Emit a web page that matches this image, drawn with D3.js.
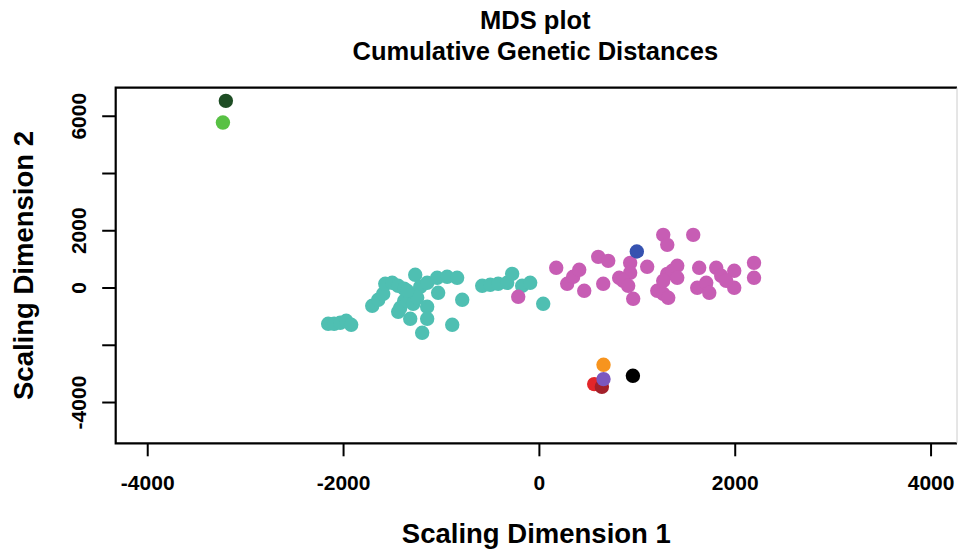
<!DOCTYPE html>
<html lang="en">
  <head>
    <meta charset="UTF-8" />
    <title>MDS plot</title>
    <script src="https://cdn.jsdelivr.net/npm/d3@7"></script>
    <style>
      body { margin: 0; background: #fff; }
      svg { display: block; font-family: "Liberation Sans", Arial, Helvetica, sans-serif; font-weight: bold; }
    </style>
  </head>
  <body>
    <svg width="959" height="553"></svg>

    <script>
      // groups, colours and MDS coordinates
      var groups = ["teal", "magenta", "blue", "red", "darkred", "orange", "purple", "black", "darkgreen", "lightgreen"];
      var groupColors = ["#4fbfb2", "#c75db4", "#3652b0", "#e3262a", "#a3202a", "#f7941e", "#7b57bf", "#000000", "#1e4d24", "#58c144"];

      var tealX = [-2152, -2091, -2029, -1968, -1917, -1702, -1641, -1590, -1569, -1498, -1437, -1375, -1263, -1314, -1375, -1416, -1437, -1212, -1141, -1039, -937, -835, -1029, -1141, -1141, -1314, -1192, -885, -783, -579, -497, -416, -324, -273, -171, -89, 44, -1284, -1243, -1345];
      var tealY = [-1268, -1268, -1233, -1163, -1303, -639, -430, -220, 129, 164, 59, -45, 444, -220, -464, -709, -849, 24, 164, 339, 374, 339, -185, -674, -1093, -1093, -1582, -1303, -430, 59, 94, 129, 164, 478, 59, 164, -569, -569, -360, -115];

      var magentaX = [-211, 177, 289, 350, 412, 463, 606, 708, 657, 820, 932, 932, 861, 912, 963, 1106, 1270, 1311, 1576, 1209, 1270, 1321, 1311, 1362, 1413, 1413, 1270, 1637, 1617, 1709, 1740, 1811, 1862, 1995, 1995, 1913, 2197, 2197];
      var magentaY = [-325, 688, 129, 374, 618, -115, 1072, 932, 129, 339, 862, 513, 234, 59, -395, 723, 1840, 1491, 1840, -115, -220, -360, 478, 583, 758, 339, 234, 688, -10, 164, -185, 688, 409, 583, -10, 234, 862, 339];

      var blueX = [1000], blueY = [1257];
      var redX = [565], redY = [-3374];
      var darkredX = [643], darkredY = [-3468];
      var orangeX = [660], orangeY = [-2700];
      var purpleX = [660], purpleY = [-3199];
      var blackX = [960], blackY = [-3084];
      var darkgreenX = [-3197], darkgreenY = [6520];
      var lightgreenX = [-3227], lightgreenY = [5763];

      var xTicks = [-4000, -2000, 0, 2000, 4000];
      var xTickLabels = ["-4000", "-2000", "0", "2000", "4000"];
      var yTicks = [-4000, -2000, 0, 2000, 4000, 6000];
      var yTickLabels = ["-4000", "", "0", "2000", "", "6000"]; // R drops the crowded ones

      var seriesX = [tealX, magentaX, blueX, redX, darkredX, orangeX, purpleX, blackX, darkgreenX, lightgreenX];
      var seriesY = [tealY, magentaY, blueY, redY, darkredY, orangeY, purpleY, blackY, darkgreenY, lightgreenY];

      var points = [];
      groups.forEach(function (g, i) {
        seriesX[i].forEach(function (v, j) {
          points.push({ group: g, color: groupColors[i], x: v, y: seriesY[i][j] });
        });
      });

      var svg = d3.select("svg"),
        plot = { left: 115.7, right: 957, top: 87.7, bottom: 443.3 };

      // plot limits (par("usr")) so the ticks fall where they do in the picture
      var x = d3.scaleLinear().domain([-4322, 4270]).range([plot.left, plot.right]),
        y = d3.scaleLinear().domain([-5442, 6980]).range([plot.bottom, plot.top]);

      // title
      svg.append("text")
        .attr("x", (plot.left + plot.right) / 2 - 1)
        .attr("y", 29)
        .attr("text-anchor", "middle")
        .style("font-size", "25.5px")
        .text("MDS plot");
      svg.append("text")
        .attr("x", (plot.left + plot.right) / 2 - 1)
        .attr("y", 60)
        .attr("text-anchor", "middle")
        .style("font-size", "25.5px")
        .text("Cumulative Genetic Distances");

      // points
      svg.append("g")
        .selectAll("circle")
        .data(points)
        .enter()
        .append("circle")
        .attr("cx", function (d) { return x(d.x); })
        .attr("cy", function (d) { return y(d.y); })
        .attr("r", 7.2)
        .attr("fill", function (d) { return d.color; });

      // axes
      var xAxis = svg.append("g")
        .attr("transform", "translate(0," + plot.bottom + ")")
        .call(d3.axisBottom(x).tickValues(xTicks).tickSize(13).tickFormat(function (d, i) { return xTickLabels[i]; }));
      xAxis.select(".domain").remove();
      xAxis.selectAll("line").attr("stroke", "#000").attr("stroke-width", 2);
      xAxis.selectAll("text")
        .attr("y", 47)
        .attr("dy", 0)
        .attr("fill", "#000")
        .style("font-size", "21px")
        .style("font-family", "'Liberation Sans', Arial, sans-serif")
        .style("font-weight", "bold");

      var yAxis = svg.append("g")
        .attr("transform", "translate(" + plot.left + ",0)")
        .call(d3.axisLeft(y).tickValues(yTicks).tickSize(13.5).tickFormat(function (d, i) { return yTickLabels[i]; }));
      yAxis.select(".domain").remove();
      yAxis.selectAll("line").attr("stroke", "#000").attr("stroke-width", 2);
      yAxis.selectAll("text")
        .attr("transform", "rotate(-90)")
        .attr("x", 0)
        .attr("y", -30)
        .attr("dy", 0)
        .attr("text-anchor", "middle")
        .attr("fill", "#000")
        .style("font-size", "21px")
        .style("font-family", "'Liberation Sans', Arial, sans-serif")
        .style("font-weight", "bold");

      // box
      svg.append("path")
        .attr("d", "M" + plot.right + "," + plot.top + "H" + plot.left + "V" + plot.bottom + "H" + plot.right)
        .attr("fill", "none")
        .attr("stroke", "#000")
        .attr("stroke-width", 2.2);
      svg.append("line")
        .attr("x1", plot.right).attr("x2", plot.right)
        .attr("y1", plot.top).attr("y2", plot.bottom)
        .attr("stroke", "#ccc")
        .attr("stroke-width", 1);

      // axis titles
      svg.append("text")
        .attr("x", (plot.left + plot.right) / 2)
        .attr("y", 543)
        .attr("text-anchor", "middle")
        .style("font-size", "27.5px")
        .text("Scaling Dimension 1");
      svg.append("text")
        .attr("transform", "translate(33," + (plot.top + plot.bottom) / 2 + ") rotate(-90)")
        .attr("text-anchor", "middle")
        .style("font-size", "27.5px")
        .text("Scaling Dimension 2");
    </script>
  </body>
</html>
